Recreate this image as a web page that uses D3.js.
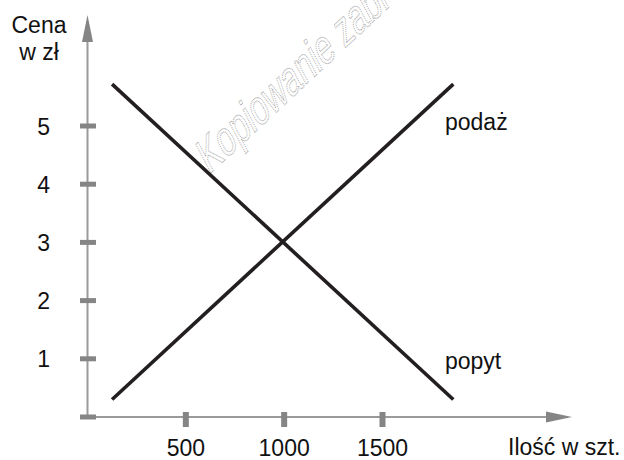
<!DOCTYPE html>
<html>
<head>
<meta charset="utf-8">
<script src="https://cdn.jsdelivr.net/npm/d3@7"></script>
<style>
  body { margin: 0; background: #fff; }
  svg { display: block; }
</style>
</head>
<body>
<svg id="chart" width="624" height="460"></svg>
<script>
// tick values on both axes
const priceTicks = [0, 1, 2, 3, 4, 5];
const priceLabels = ["1", "2", "3", "4", "5"];
const qtyTicks = [500, 1000, 1500];

// the two straight lines (quantity, price)
const supply = [[125, 0.3], [1860, 5.72]];
const demand = [[125, 5.72], [1860, 0.3]];

const supplyLabel = "podaż";
const demandLabel = "popyt";

var svg = d3.select("#chart");
var font = "'Liberation Sans', Arial, sans-serif";

var x = d3.scaleLinear().domain([0, 1500]).range([87.5, 382.5]);
var y = d3.scaleLinear().domain([0, 5]).range([417, 126]);

var axisCol = "#9a9a9a",
    tickCol = "#858585";

// watermark (cut off by the top edge, as in the original)
svg.append("text")
    .attr("transform", "translate(209,175) rotate(-43) skewX(-15) scale(0.74,1)")
    .attr("font-family", font)
    .attr("font-size", "46px")
    .attr("fill", "none")
    .attr("stroke", "#a0a0a0")
    .attr("stroke-width", 1.1)
    .attr("stroke-dasharray", "1,1")
    .text("Kopiowanie zabronione");

// y axis + arrow
svg.append("line")
    .attr("x1", x(0)).attr("x2", x(0))
    .attr("y1", y(0)).attr("y2", 40)
    .attr("stroke", axisCol).attr("stroke-width", 2);
svg.append("path")
    .attr("d", "M" + x(0) + ",15 L" + (x(0) + 5.5) + ",42 L" + (x(0) - 5.5) + ",42 Z")
    .attr("fill", tickCol);

// x axis + arrow
svg.append("line")
    .attr("x1", x(0)).attr("x2", 548)
    .attr("y1", y(0)).attr("y2", y(0))
    .attr("stroke", axisCol).attr("stroke-width", 2);
svg.append("path")
    .attr("d", "M572," + y(0) + " L546," + (y(0) - 5.5) + " L546," + (y(0) + 5.5) + " Z")
    .attr("fill", tickCol);

// y ticks
svg.selectAll(".yt").data(priceTicks).enter()
    .append("line")
    .attr("x1", x(0) - 7.5).attr("x2", x(0) + 8.5)
    .attr("y1", d => y(d)).attr("y2", d => y(d))
    .attr("stroke", tickCol).attr("stroke-width", 5);

svg.selectAll(".yl").data(priceLabels).enter()
    .append("text")
    .attr("x", 50)
    .attr("y", d => y(+d) + 8.5)
    .attr("text-anchor", "end")
    .attr("font-family", font).attr("font-size", "23px").attr("fill", "#111")
    .text(d => d);

// x ticks
svg.selectAll(".xt").data(qtyTicks).enter()
    .append("line")
    .attr("x1", d => x(d)).attr("x2", d => x(d))
    .attr("y1", y(0) - 5).attr("y2", y(0) + 10)
    .attr("stroke", tickCol).attr("stroke-width", 6);

svg.selectAll(".xl").data(qtyTicks).enter()
    .append("text")
    .attr("x", d => x(d))
    .attr("y", 456)
    .attr("text-anchor", "middle")
    .attr("font-family", font).attr("font-size", "23px").attr("fill", "#111")
    .text(d => d);

// axis titles
svg.append("text")
    .attr("x", 39).attr("y", 33)
    .attr("text-anchor", "middle")
    .attr("font-family", font).attr("font-size", "23px").attr("fill", "#111")
    .text("Cena");
svg.append("text")
    .attr("x", 39).attr("y", 60)
    .attr("text-anchor", "middle")
    .attr("font-family", font).attr("font-size", "23px").attr("fill", "#111")
    .text("w zł");
svg.append("text")
    .attr("x", 508).attr("y", 455)
    .attr("font-family", font).attr("font-size", "23px").attr("fill", "#111")
    .text("Ilość w szt.");

// lines
var line = d3.line().x(d => x(d[0])).y(d => y(d[1]));
[supply, demand].forEach(function (s) {
    svg.append("path")
        .attr("d", line(s))
        .attr("fill", "none")
        .attr("stroke", "#231f20")
        .attr("stroke-width", 3.6);
});

svg.append("text")
    .attr("x", 445).attr("y", 130)
    .attr("font-family", font).attr("font-size", "23px").attr("fill", "#111")
    .text(supplyLabel);
svg.append("text")
    .attr("x", 445).attr("y", 369)
    .attr("font-family", font).attr("font-size", "23px").attr("fill", "#111")
    .text(demandLabel);
</script>
</body>
</html>
